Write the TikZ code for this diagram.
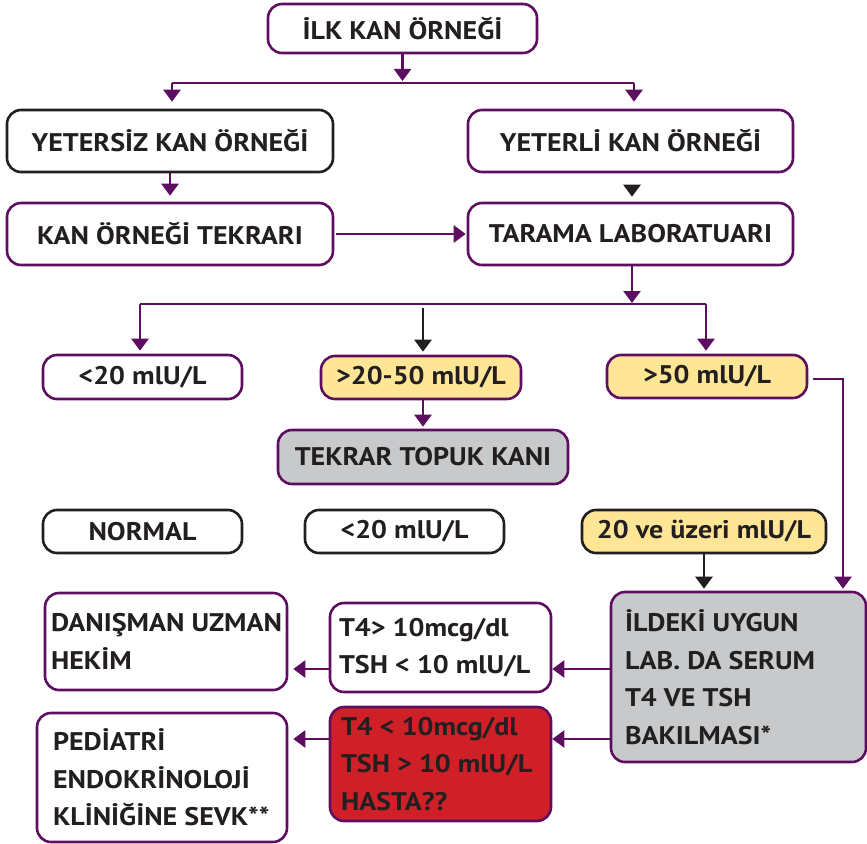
\documentclass[tikz,border=0pt]{standalone}
\usepackage{fontspec}
\setmainfont{PT Sans}[FakeStretch=1.1]
\usepackage{tikz}
\usetikzlibrary{positioning, arrows.meta}
\definecolor{mor}{RGB}{94,14,96}
\definecolor{koyu}{RGB}{35,31,32}
\definecolor{sari}{RGB}{255,229,150}
\definecolor{gri}{RGB}{200,201,203}
\definecolor{kirmizi}{RGB}{207,32,39}
\tikzstyle{kutu}=[draw=mor, line width=2.6pt, rounded corners=14pt, fill=white, text=koyu, inner sep=0pt, font=\bfseries\fontsize{25.5}{37.5}\selectfont]
\tikzstyle{kkutu}=[kutu, draw=koyu]
\tikzstyle{skutu}=[kutu, fill=sari]
\tikzstyle{gkutu}=[kutu, fill=gri]
\tikzstyle{ok}=[-{Triangle[width=17pt,length=12pt]}, line width=2.6pt, draw=mor]
\tikzstyle{cizgi}=[line width=2.6pt, draw=mor]

\begin{document}
\begin{tikzpicture}[x=1pt, y=-1pt]
\useasboundingbox (0,0) rectangle (867,843);
% ust kisim
\node [kutu, minimum width=269pt, minimum height=49pt] (ilk) at (402.5,28.5) {İLK KAN ÖRNEĞİ};
\node [kkutu, minimum width=326pt, minimum height=62pt] (yetersiz) at (170,141) {YETERSİZ KAN ÖRNEĞİ};
\node [kutu, minimum width=325pt, minimum height=62pt] (yeterli) at (630.5,141) {YETERLİ KAN ÖRNEĞİ};
\node [kutu, minimum width=326pt, minimum height=62pt] (tekrar) at (170,234) {KAN ÖRNEĞİ TEKRARI};
\node [kutu, minimum width=325pt, minimum height=62pt] (tarama) at (630.5,234) {TARAMA LABORATUARI};
% sonuclar
\node [kutu, minimum width=199pt, minimum height=44pt] (alt) at (142.5,377) {<20 mlU/L\hspace{14pt}};
\node [skutu, minimum width=200pt, minimum height=43pt] (orta) at (421,377.5) {>20-50 mlU/L};
\node [skutu, minimum width=200pt, minimum height=43pt] (ust) at (707,376.5) {>50 mlU/L};
\node [gkutu, minimum width=290pt, minimum height=54pt] (topuk) at (423,457) {TEKRAR TOPUK KANI};
\node [kkutu, minimum width=199pt, minimum height=43pt] (normal) at (142.5,531.5) {NORMAL\hspace{8pt}};
\node [kkutu, minimum width=199pt, minimum height=43pt] (alt2) at (404.5,531.5) {<20 mlU/L};
\node [skutu, draw=koyu, minimum width=244pt, minimum height=43pt] (uzeri) at (704,531.5) {20 ve üzeri mlU/L};
% serum
\node [gkutu, text width=227pt, inner xsep=14pt, minimum height=170pt, align=flush left] (ildeki) at (738.5,677) {İLDEKİ UYGUN\\LAB. DA SERUM\\T4 VE TSH\\BAKILMASI*};
\node [kutu, text width=203pt, inner xsep=9pt, minimum height=89pt, align=flush left] (t4iyi) at (440.5,647.5) {T4> 10mcg/dl\\TSH < 10 mlU/L};
\node [kutu, fill=kirmizi, text width=199pt, inner xsep=11pt, minimum height=114pt, align=flush left] (t4kotu) at (440.5,764) {T4 < 10mcg/dl\\TSH > 10 mlU/L\\HASTA??};
\node [kutu, text width=230pt, inner xsep=6pt, minimum height=97pt, align=flush left] (danisman) at (166,641.5) {\mbox{DANIŞMAN UZMAN}\\HEKİM};
\node [kutu, text width=218pt, inner xsep=16pt, minimum height=129pt, align=flush left] (pediatri) at (162,777.5) {PEDİATRİ\\ENDOKRİNOLOJİ\\KLİNİĞİNE SEVK**};
% dallar
\coordinate (d1) at (402.5,83);
\coordinate (d1l) at (172,83);
\coordinate (d1r) at (634,83);
\coordinate (uc) at (632,185);
\coordinate (d2) at (632,304);
\coordinate (d2l) at (140,304);
\coordinate (d2m) at (423,308);
\coordinate (d2r) at (706,304);
\coordinate (sag) at (843,379);
\coordinate (s1) at (0,669);
\coordinate (s2) at (0,739);
% baglantilar
\draw [ok, shorten >=2pt] (ilk) -- (d1);
\draw [cizgi] (d1l) -- (d1r);
\draw [ok, shorten >=7pt] (d1l) -- (d1l |- yetersiz.north);
\draw [ok, shorten >=7pt] (d1r) -- (d1r |- yeterli.north);
\draw [ok, shorten >=6pt] (yetersiz) -- (tekrar);
\draw [ok, draw=koyu, shorten >=5pt] (uc) -- (uc |- tarama.north);
\draw [ok, shorten <=2pt, shorten >=1pt] (tekrar) -- (tarama);
\draw [ok, shorten >=1pt] (tarama.south -| d2) -- (d2);
\draw [cizgi] (d2l) -- (d2r);
\draw [ok, shorten >=3pt] (d2l) -- (d2l |- alt.north);
\draw [ok, draw=koyu, shorten >=3pt] (d2m) -- (d2m |- orta.north);
\draw [ok, shorten >=3pt] (d2r) -- (d2r |- ust.north);
\draw [ok, shorten >=2pt] (orta.south -| d2m) -- (d2m |- topuk.north);
\draw [ok, shorten <=5pt, shorten >=2pt] (ust.east |- sag) -- (sag) -- (sag |- ildeki.north);
\draw [ok, draw=koyu, shorten >=2pt] (uzeri) -- (uzeri |- ildeki.north);
\draw [ok] (ildeki.west |- s1) -- (t4iyi.east |- s1);
\draw [ok, shorten >=5pt] (t4iyi.west |- s1) -- (danisman.east |- s1);
\draw [ok] (ildeki.west |- s2) -- (t4kotu.east |- s2);
\draw [ok, shorten >=5pt] (t4kotu.west |- s2) -- (pediatri.east |- s2);
\end{tikzpicture}
\end{document}
